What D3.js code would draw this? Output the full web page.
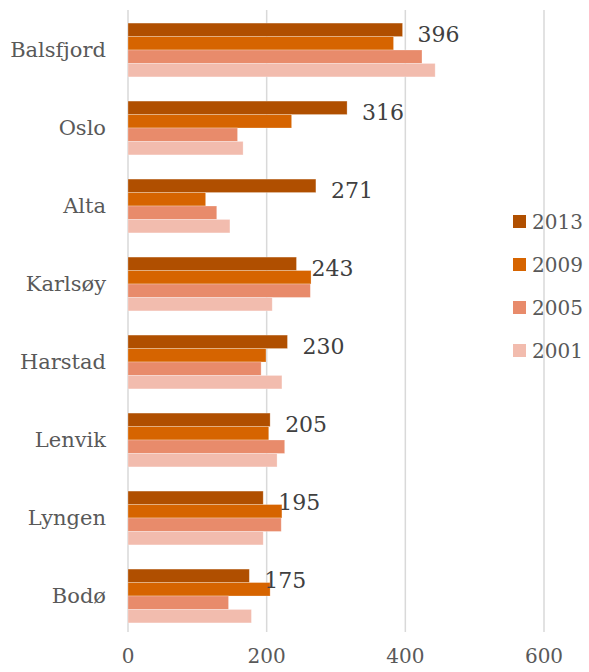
<!DOCTYPE html>
<html>
<head>
<meta charset="utf-8">
<script src="https://cdn.jsdelivr.net/npm/d3@7"></script>
<style>
  body { margin: 0; background: #fff; }
  text { font-family: "DejaVu Serif", Georgia, serif; fill: #595959; }
</style>
</head>
<body>
<div id="chart"></div>
<script>
// categories, top to bottom
var places = ["Balsfjord", "Oslo", "Alta", "Karlsøy", "Harstad", "Lenvik", "Lyngen", "Bodø"];
var years = ["2013", "2009", "2005", "2001"];

// values per series
var v2013 = [396, 316, 271, 243, 230, 205, 195, 175];
var v2009 = [383, 236, 112, 264, 199, 203, 222, 205];
var v2005 = [424, 158, 128, 263, 192, 226, 221, 145];
var v2001 = [443, 166, 147, 208, 222, 215, 195, 178];

var xTicks = [0, 200, 400, 600];

var series = [v2013, v2009, v2005, v2001];
var colors = ["#B04F00", "#D66400", "#E88B6B", "#F2BCAE"];

var width = 589, height = 672;

var svg = d3.select("#chart").append("svg")
  .attr("width", width)
  .attr("height", height);

var xScale = d3.scaleLinear()
  .domain([0, 600])
  .range([128, 544]);

var yScale = d3.scaleBand()
  .domain(places)
  .range([11, 635])
  .paddingInner(0.31)
  .paddingOuter(0.155);

var inner = d3.scaleBand()
  .domain(years)
  .range([0, yScale.bandwidth()]);

// gridlines
svg.append("g").selectAll("line")
  .data(xTicks).enter()
  .append("line")
  .attr("x1", function(d) { return xScale(d); })
  .attr("x2", function(d) { return xScale(d); })
  .attr("y1", 10)
  .attr("y2", 632)
  .style("stroke", "#d9d9d9")
  .style("stroke-width", 1.5);

// bars
var rows = places.map(function(p, i) {
  return { place: p, vals: series.map(function(s, j) { return { year: years[j], v: s[i], c: colors[j] }; }) };
});

var groups = svg.append("g").selectAll("g")
  .data(rows).enter()
  .append("g")
  .attr("transform", function(d) { return "translate(0," + yScale(d.place) + ")"; });

groups.selectAll("rect")
  .data(function(d) { return d.vals; }).enter()
  .append("rect")
  .attr("x", xScale(0))
  .attr("y", function(d) { return inner(d.year); })
  .attr("width", function(d) { return xScale(d.v) - xScale(0); })
  .attr("height", inner.bandwidth())
  .style("fill", function(d) { return d.c; })
  .style("stroke", "#fff")
  .style("stroke-opacity", 0.35)
  .style("stroke-width", 0.75);

// value labels for 2013
groups.append("text")
  .attr("x", function(d) { return xScale(d.vals[0].v) + 15; })
  .attr("y", inner.bandwidth() + 5)
  .style("font-size", "22px")
  .style("fill", "#404040")
  .text(function(d) { return d.vals[0].v; });

// category labels
svg.append("g").selectAll("text")
  .data(places).enter()
  .append("text")
  .attr("x", 106)
  .attr("y", function(d) { return yScale(d) + yScale.bandwidth() / 2; })
  .attr("text-anchor", "end")
  .attr("dy", "0.35em")
  .style("font-size", "21px")
  .text(function(d) { return d; });

// x tick labels
svg.append("g").selectAll("text")
  .data(xTicks).enter()
  .append("text")
  .attr("x", function(d) { return xScale(d); })
  .attr("y", 663)
  .attr("text-anchor", "middle")
  .style("font-size", "20px")
  .text(function(d) { return d; });

// legend
var legend = svg.append("g").selectAll("g")
  .data(years).enter()
  .append("g")
  .attr("transform", function(d, i) { return "translate(513," + (215 + i * 43) + ")"; });

legend.append("rect")
  .attr("width", 13)
  .attr("height", 13)
  .style("fill", function(d, i) { return colors[i]; });

legend.append("text")
  .attr("x", 19)
  .attr("y", 7)
  .attr("dy", "0.35em")
  .style("font-size", "20px")
  .text(function(d) { return d; });
</script>
</body>
</html>
